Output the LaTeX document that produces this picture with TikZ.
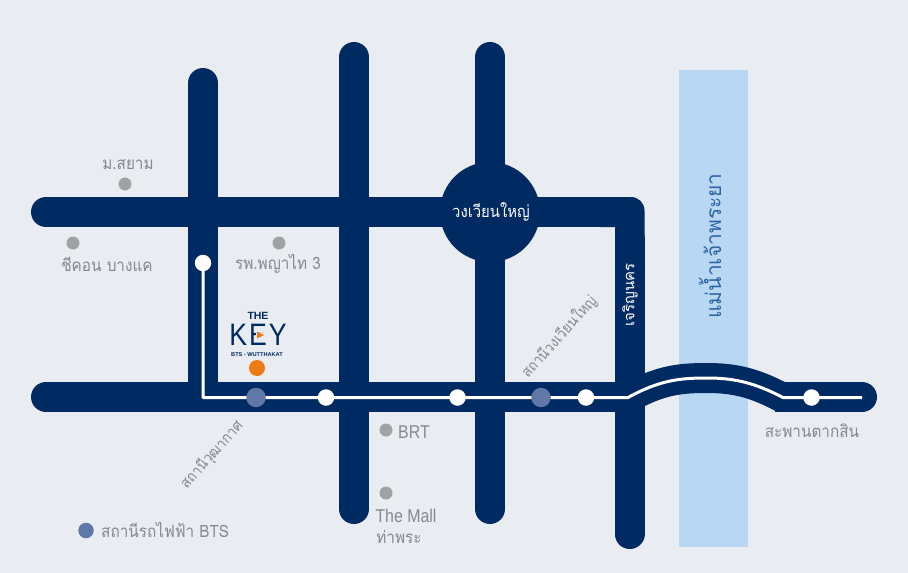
\documentclass[tikz,border=0pt]{standalone}
\usepackage{fontspec}
\setmainfont{Liberation Sans}
\newfontfamily\thaifont[Script=Thai,FakeStretch=0.9]{Loma}
\newfontfamily\riverfont[Script=Thai]{Loma}
\newfontfamily\narrowfont[FakeStretch=0.86]{Liberation Sans}
\definecolor{bgc}{HTML}{E9EDF2}
\definecolor{road}{HTML}{002A62}
\definecolor{river}{HTML}{B8D7F2}
\definecolor{rivertext}{HTML}{2F65A6}
\definecolor{stn}{HTML}{5F78A8}
\definecolor{poi}{HTML}{A0A2A6}
\definecolor{lab}{HTML}{85888C}
\definecolor{orangedot}{HTML}{EE7A14}
\tikzset{
  roadline/.style={draw=road,line width=30pt,line cap=butt,line join=round},
  railline/.style={draw=white,line width=3pt,line join=round},
  whitestop/.style={circle,fill=white,inner sep=0pt,minimum size=16.5pt},
  btsstop/.style={circle,fill=stn,inner sep=0pt,minimum size=19.5pt},
  poidot/.style={circle,fill=poi,inner sep=0pt,minimum size=13pt},
  lbl/.style={text=lab,inner sep=0pt,font=\thaifont\fontsize{17}{19}\selectfont},
  rlbl/.style={lbl,font=\thaifont\fontsize{15}{17}\selectfont,rotate=48},
  ltn/.style={text=lab,inner sep=0pt,font=\narrowfont\fontsize{18.5}{20}\selectfont},
}
\begin{document}
\begin{tikzpicture}[x=1pt,y=-1pt]
\useasboundingbox (0,0) rectangle (908,573);
\fill[bgc] (0,0) rectangle (908,573);
% river
\fill[river] (679,70) rectangle (748,547);
% roads
\draw[roadline,line cap=round] (203,83) -- (203,397);
\draw[roadline,line cap=round] (354,57) -- (354,509);
\draw[roadline,line cap=round] (490,57) -- (490,509);
\draw[roadline,line cap=round] (46,212) -- (600,212);
\fill[road] (600,197) -- (631,197) .. controls (638.5,197) and (644.5,203) .. (644.5,210.5) -- (644.5,240) -- (615,240) -- (615,227) -- (600,227) -- cycle;
\draw[roadline,line cap=round] (629.5,239) -- (629.5,534);
\draw[roadline] (46,397) -- (640,397);
\fill[road] (46,397) circle (15);
\draw[roadline] (775,397) -- (862,397);
\fill[road] (862,397) circle (15);
\draw[roadline] (628,398) .. controls (660,380) and (680,378) .. (707,378) .. controls (735,378) and (755,383) .. (783,398);
\node[circle,fill=road,inner sep=0pt,minimum size=100pt] (circ) at (490,212) {};
% rail
\coordinate (railstart) at (203,263);
\coordinate (railcorner) at (203,397.5);
\coordinate (bridgeA) at (628,397.5);
\coordinate (bridgeB) at (783,397.5);
\coordinate (railend) at (862,397.5);
\draw[railline] (railstart) -- (railcorner) -- (bridgeA) .. controls (660,380) and (680,378) .. (707,378) .. controls (735,378) and (755,383) .. (bridgeB) -- (railend);
\node[whitestop] (s1) at (railstart) {};
\node[whitestop] (s2) at (326,397.5) {};
\node[whitestop] (s3) at (457.5,397.5) {};
\node[whitestop] (s4) at (586,397.5) {};
\node[whitestop] (s5) at (811.5,397.5) {};
\node[btsstop] (b1) at (256,397.5) {};
\node[btsstop] (b2) at (541,397.5) {};
% points of interest
\node[poidot] (p1) at (125,184) {};
\node[poidot] (p2) at (73,243) {};
\node[poidot] (p3) at (279,243) {};
\node[poidot] (p4) at (386,430) {};
\node[poidot] (p5) at (386,493) {};
\node[lbl] (t1) at (128,165) {ม.สยาม};
\node[lbl] (t2) at (107,264) {ชีคอน บางแค};
\node[lbl] (t3) at (278,264) {รพ.พญาไท 3};
\node[ltn,anchor=west] (t4) at (398,432) {BRT};
\node[ltn] (t5) at (406,516) {The Mall};
\node[lbl] (t6) at (399,537) {ท่าพระ};
\node[rlbl] (t7) at (212,455) {สถานีวุฒากาศ};
\node[rlbl] (t8) at (559,337) {สถานีวงเวียนใหญ่};
\node[lbl] (t9) at (812,431) {สะพานตากสิน};
\node[circle,fill=stn,inner sep=0pt,minimum size=15.5pt] (leg) at (86,530.5) {};
\node[lbl,anchor=west] (t10) at (101,530) {สถานีรถไฟฟ้า BTS};
\node[inner sep=0pt,text=white,font=\thaifont\fontsize{16.5}{19}\selectfont] (t11) at (491,212) {วงเวียนใหญ่};
\node[inner sep=0pt,text=white,rotate=90,font=\riverfont\fontsize{15}{17}\selectfont] (t12) at (630,295) {เจริญนคร};
\node[inner sep=0pt,text=rivertext,rotate=90,font=\riverfont\fontsize{21}{24}\selectfont] (t13) at (710,246) {แม่น้ำเจ้าพระยา};
% logo
\node[inner sep=0pt,text=road,font=\bfseries\fontsize{10.5}{12}\selectfont] (logo1) at (258,316) {THE};
\node[inner sep=0pt,text=road,font=\narrowfont\fontsize{31}{32}\selectfont] (logo2) at (258,335) {K\kern2pt E\kern2pt Y};
\fill[bgc] (256,332.5) rectangle (266,337.5);
\fill[orangedot] (257,331.5) -- (257,338.5) -- (264,335) -- cycle;
\node[inner sep=0pt,text=road,font=\bfseries\fontsize{5.6}{7}\selectfont] (logo3) at (257,354.5) {BTS - WUTTHAKAT};
\node[circle,fill=orangedot,inner sep=0pt,minimum size=16pt] (home) at (257,368) {};
\end{tikzpicture}
\end{document}
